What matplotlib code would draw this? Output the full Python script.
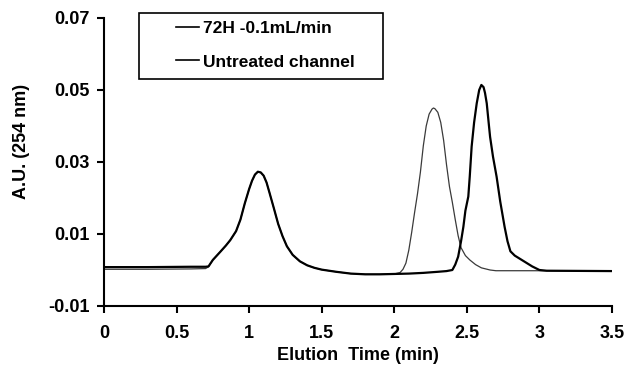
import numpy as np
import matplotlib
matplotlib.use("Agg")
import matplotlib.pyplot as plt
from matplotlib.patches import Rectangle

plt.rcParams['font.family'] = ['Liberation Sans', 'DejaVu Sans']
plt.rcParams['font.weight'] = 'bold'

# 72H -0.1mL/min (thin trace)
t_72h = [0.00, 0.30, 0.60, 0.70, 0.72, 0.75, 0.80, 0.84, 0.87, 0.91, 0.94, 0.97,
         1.00, 1.02, 1.04, 1.06, 1.08, 1.10, 1.12, 1.14, 1.17, 1.20, 1.23, 1.26,
         1.30, 1.35, 1.40, 1.45, 1.50, 1.60, 1.70, 1.80, 1.90, 2.00, 2.04, 2.06,
         2.08, 2.10, 2.12, 2.14, 2.16, 2.18, 2.20, 2.22, 2.24, 2.26, 2.27, 2.28,
         2.30, 2.32, 2.34, 2.36, 2.38, 2.40, 2.42, 2.44, 2.46, 2.49, 2.52, 2.56,
         2.60, 2.66, 2.70, 3.00, 3.50]
a_72h = [0.0002, 0.0002, 0.0003, 0.0004, 0.0009, 0.0028, 0.0050, 0.0068, 0.0083,
         0.0108, 0.0140, 0.0185, 0.0225, 0.0248, 0.0265, 0.0273, 0.0271, 0.0262,
         0.0243, 0.0215, 0.0172, 0.0128, 0.0094, 0.0066, 0.0042, 0.0024, 0.0013,
         0.0006, 0.0001, -0.0005, -0.0010, -0.0012, -0.0012, -0.0011, -0.0007,
         0.0002, 0.0019, 0.0055, 0.0105, 0.0160, 0.0212, 0.0272, 0.0345, 0.0400,
         0.0433, 0.0447, 0.0450, 0.0448, 0.0438, 0.0410, 0.0360, 0.0292, 0.0232,
         0.0188, 0.0140, 0.0095, 0.0062, 0.0040, 0.0028, 0.0015, 0.0006, 0.0000,
         -0.0002, -0.0002, -0.0003]

# Untreated channel (thick trace)
t_untr = [0.00, 0.30, 0.60, 0.70, 0.72, 0.75, 0.80, 0.84, 0.87, 0.91, 0.94, 0.97,
          1.00, 1.02, 1.04, 1.06, 1.08, 1.10, 1.12, 1.14, 1.17, 1.20, 1.23, 1.26,
          1.30, 1.35, 1.40, 1.45, 1.50, 1.60, 1.70, 1.80, 1.90, 2.00, 2.10, 2.20,
          2.30, 2.36, 2.40, 2.42, 2.44, 2.46, 2.476, 2.49, 2.51, 2.52, 2.533,
          2.55, 2.568, 2.585, 2.60, 2.615, 2.625, 2.637, 2.65, 2.66, 2.68, 2.705,
          2.73, 2.76, 2.78, 2.80, 2.83, 2.87, 2.91, 2.95, 3.00, 3.05, 3.50]
a_untr = [0.0008, 0.0008, 0.0009, 0.0009, 0.0010, 0.0028, 0.0050, 0.0068, 0.0083,
          0.0108, 0.0140, 0.0185, 0.0225, 0.0248, 0.0265, 0.0273, 0.0271, 0.0262,
          0.0243, 0.0215, 0.0172, 0.0128, 0.0094, 0.0066, 0.0042, 0.0024, 0.0013,
          0.0006, 0.0001, -0.0005, -0.0010, -0.0012, -0.0012, -0.0011, -0.0010,
          -0.0008, -0.0005, -0.0003, 0.0000, 0.0015, 0.0037, 0.0080, 0.0120,
          0.0165, 0.0204, 0.0260, 0.0343, 0.0410, 0.0463, 0.0500, 0.0514, 0.0508,
          0.0492, 0.0463, 0.0410, 0.0370, 0.0315, 0.0259, 0.0190, 0.0120, 0.0080,
          0.0052, 0.0040, 0.0030, 0.0020, 0.0010, 0.0000, -0.0002, -0.0003]

labels = ['72H -0.1mL/min', 'Untreated channel']
xticks = [0, 0.5, 1, 1.5, 2, 2.5, 3, 3.5]
yticks = [-0.01, 0.01, 0.03, 0.05, 0.07]

fig = plt.figure(figsize=(6.28, 3.71), dpi=100)
ax = fig.add_axes([104/628, 1-306/371, 508/628, 288/371])

ax.plot(t_72h, a_72h, color='#3a3a3a', lw=0.9, label=labels[0])
ax.plot(t_untr, a_untr, color='black', lw=1.6, label=labels[1])

ax.set_xlim(0, 3.5)
ax.set_ylim(-0.01, 0.07)
ax.set_xticks(xticks)
ax.set_xticklabels(['0', '0.5', '1', '1.5', '2', '2.5', '3', '3.5'])
ax.set_yticks(yticks)
ax.set_yticklabels(['-0.01', '0.01', '0.03', '0.05', '0.07'])
for s in ['top', 'right']:
    ax.spines[s].set_visible(False)
for s in ['left', 'bottom']:
    ax.spines[s].set_linewidth(1.5)
ax.tick_params(axis='both', direction='out', length=5, width=1.5, labelsize=13)
ax.tick_params(axis='x', pad=9)
ax.tick_params(axis='y', pad=5)

ax.set_xlabel('Elution  Time (min)', fontsize=13, fontweight='bold', labelpad=3)
ax.set_ylabel('A.U. (254 nm)', fontsize=13, fontweight='bold')
ax.yaxis.set_label_coords(-0.146, 0.573)

leg = ax.legend(loc='upper left', bbox_to_anchor=(176/628, 1-21/371),
                bbox_transform=fig.transFigure, frameon=False, fontsize=12.5,
                handlelength=1.3, handletextpad=0.25, labelspacing=1.05,
                borderpad=0, borderaxespad=0)
for h in leg.get_lines():
    h.set_linewidth(1.2)
    h.set_color('black')
fig.add_artist(Rectangle((139/628, 1-79/371), 244/628, 66/371,
                         transform=fig.transFigure, fill=False,
                         edgecolor='black', lw=1.2))

fig.savefig('out.png', dpi=100)
